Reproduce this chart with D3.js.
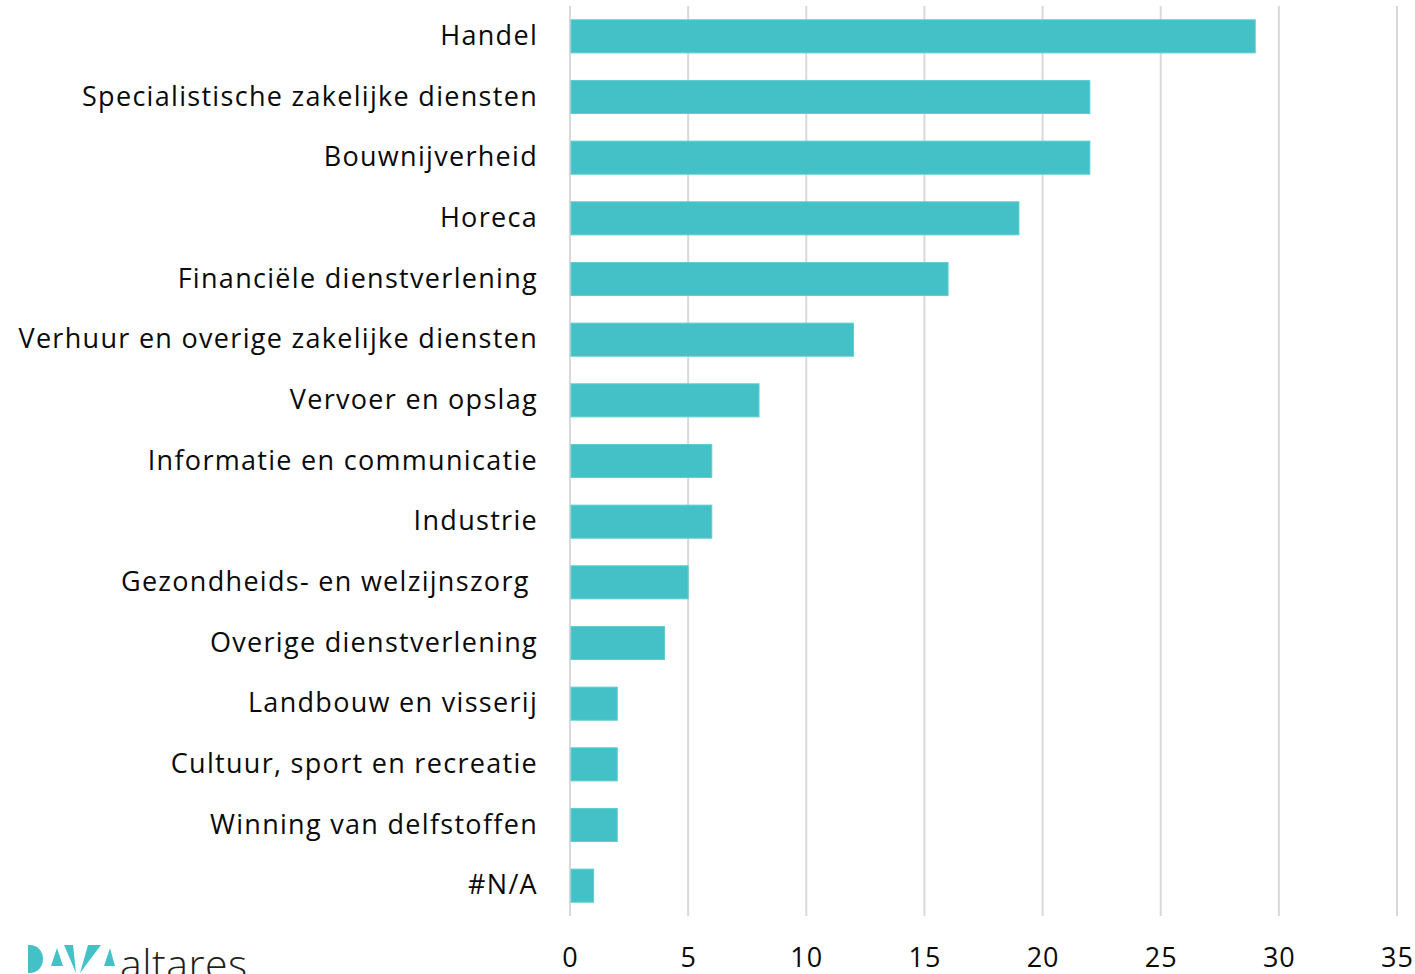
<!DOCTYPE html>
<html><head><meta charset="utf-8">
<script src="https://cdn.jsdelivr.net/npm/d3@7"></script>
<style>body{margin:0;background:#fff;} svg{display:block;}</style>
</head><body>
<script>
const categories = ["Handel","Specialistische zakelijke diensten","Bouwnijverheid","Horeca","Financiële dienstverlening","Verhuur en overige zakelijke diensten","Vervoer en opslag","Informatie en communicatie","Industrie","Gezondheids- en welzijnszorg ","Overige dienstverlening","Landbouw en visserij","Cultuur, sport en recreatie","Winning van delfstoffen","#N/A"];
const values = [29,22,22,19,16,12,8,6,6,5,4,2,2,2,1];
const ticks = [0,5,10,15,20,25,30,35];

const W=1415,H=974;
const svg=d3.select("body").append("svg").attr("width",W).attr("height",H);
const x=d3.scaleLinear().domain([0,35]).range([570,1397]);
const y=d3.scaleBand().domain(categories).range([6,916]).paddingInner(0.455).paddingOuter(0.2275);
const font="'Open Sans', sans-serif";

// grid
svg.append("g").selectAll("line").data(ticks).join("line")
 .attr("x1",d=>x(d)).attr("x2",d=>x(d)).attr("y1",6).attr("y2",916)
 .attr("stroke","#d9d9d9").attr("stroke-width",2);

// bars
svg.append("g").selectAll("rect").data(values).join("rect")
 .attr("x",x(0)+1).attr("y",(d,i)=>y(categories[i]))
 .attr("width",d=>x(d)-x(0)-1).attr("height",y.bandwidth())
 .attr("fill","#44c1c6").attr("stroke","#5fcdd1").attr("stroke-width",1);

// category labels
svg.append("g").selectAll("text").data(categories).join("text")
 .attr("x",538).attr("y",d=>y(d)+y.bandwidth()/2).attr("dy","0.32em")
 .attr("text-anchor","end").attr("font-family",font).attr("font-size",27)
 .attr("letter-spacing","1.3px")
 .attr("xml:space","preserve").style("white-space","pre")
 .attr("fill","#0a0a0a").text(d=>d);

// x axis tick labels
const ax=d3.axisBottom(x).tickValues(ticks).tickSize(0).tickPadding(0);
const g=svg.append("g").attr("transform","translate(0,967)").call(ax);
g.select(".domain").remove();
g.selectAll("text").attr("font-family",font).attr("font-size",27).attr("letter-spacing","1px")
 .attr("fill","#0a0a0a").attr("dy","0").attr("y",0);

// logo
const lg=svg.append("g").attr("fill","#44c1c6");
lg.append("path").attr("d","M28,945 L30,945 A13,14 0 0 1 30,973 L28,973 Z");
lg.append("path").attr("d","M57,948 L63,966 L51,966 Z");
lg.append("path").attr("d","M64,945 L73,945 L76,973 Z");
lg.append("path").attr("d","M88,945 L101,945 L80,973 Z");
lg.append("path").attr("d","M110,948 L115,966 L104,966 Z");
svg.append("text").attr("x",120).attr("y",979).attr("font-family","'Open Sans', sans-serif")
 .attr("font-size",41).attr("font-weight",300).attr("letter-spacing","0.5px").attr("fill","#231f20").text("altares");
</script>
</body></html>
